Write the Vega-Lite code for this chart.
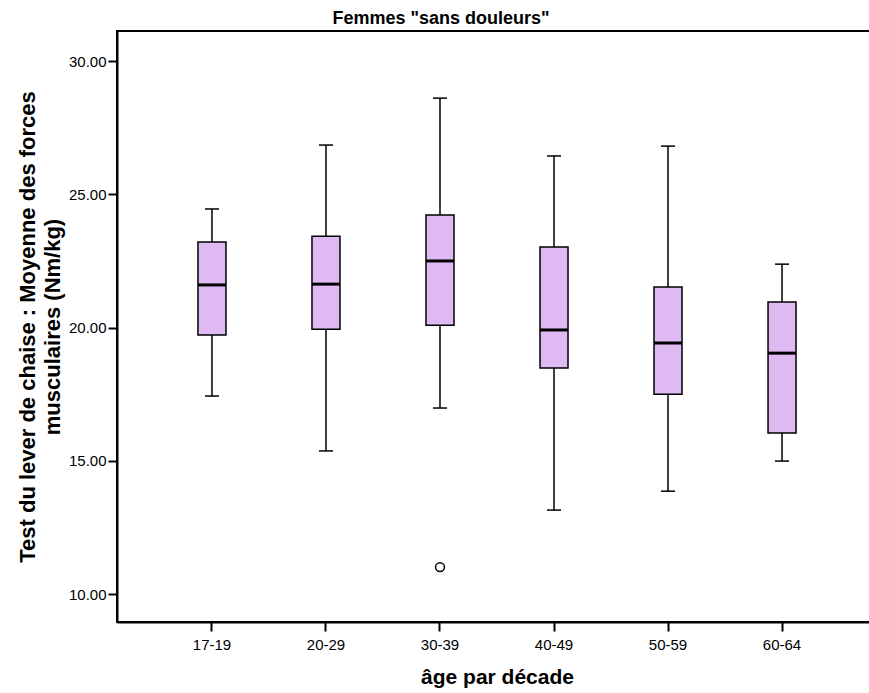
{
  "$schema": "https://vega.github.io/schema/vega-lite/v6.json",
  "width": 760,
  "height": 591,
  "padding": {"left": 16, "top": 10, "right": 0, "bottom": 5},
  "config": {
    "font": "Liberation Sans",
    "view": {"stroke": "#000000", "strokeWidth": 2},
    "axis": {"domainColor": "#000000", "domainWidth": 2, "tickColor": "#000000", "tickWidth": 2, "labelColor": "#000000", "titleColor": "#000000", "grid": false, "labelFontSize": 15, "labelFont": "Liberation Sans", "titleFont": "Liberation Sans"}
  },
  "title": {"text": "Femmes \"sans douleurs\"", "fontSize": 18, "fontWeight": "bold", "font": "Liberation Sans", "color": "#000000", "anchor": "middle", "dx": -56, "offset": 3},
  "datasets": {
    "boxes": [
      {"age": "17-19", "lo": 17.43, "q1": 19.72, "med": 21.6, "q3": 23.21, "hi": 24.45},
      {"age": "20-29", "lo": 15.37, "q1": 19.94, "med": 21.63, "q3": 23.43, "hi": 26.85},
      {"age": "30-39", "lo": 16.98, "q1": 20.09, "med": 22.5, "q3": 24.22, "hi": 28.61},
      {"age": "40-49", "lo": 13.15, "q1": 18.48, "med": 19.91, "q3": 23.02, "hi": 26.44},
      {"age": "50-59", "lo": 13.86, "q1": 17.5, "med": 19.42, "q3": 21.52, "hi": 26.81},
      {"age": "60-64", "lo": 14.99, "q1": 16.04, "med": 19.04, "q3": 20.96, "hi": 22.38}
    ],
    "outliers": [
      {"age": "30-39", "value": 11.01}
    ]
  },
  "data": {"name": "boxes"},
  "encoding": {
    "x": {
      "field": "age", "type": "nominal", "sort": null,
      "scale": {"paddingInner": 0, "paddingOuter": 0.333, "domain": ["17-19", "20-29", "30-39", "40-49", "50-59", "60-64"]},
      "axis": {"title": "âge par décade", "titleFontSize": 21, "titleFontWeight": "bold", "labelAngle": 0, "tickSize": 9, "labelPadding": 6, "titlePadding": 14, "domain": true}
    }
  },
  "layer": [
    {
      "mark": {"type": "rule", "color": "#000000", "strokeWidth": 1.5, "opacity": 1},
      "encoding": {
        "y": {"field": "lo", "type": "quantitative", "scale": {"domain": [8.95, 31.13], "nice": false, "zero": false},
          "axis": {"title": ["Test du lever de chaise : Moyenne des forces", "musculaires (Nm/kg)"], "titleFontSize": 22, "titleFontWeight": "bold", "titleLineHeight": 25, "values": [10, 15, 20, 25, 30], "format": ".2f", "tickSize": 9, "labelPadding": 2, "titlePadding": 4}},
        "y2": {"field": "hi"}
      }
    },
    {
      "mark": {"type": "tick", "color": "#000000", "size": 14, "thickness": 1.5, "orient": "horizontal", "opacity": 1},
      "encoding": {"y": {"field": "lo", "type": "quantitative"}}
    },
    {
      "mark": {"type": "tick", "color": "#000000", "size": 14, "thickness": 1.5, "orient": "horizontal", "opacity": 1},
      "encoding": {"y": {"field": "hi", "type": "quantitative"}}
    },
    {
      "mark": {"type": "bar", "size": 28, "fill": "#DFB9F2", "stroke": "#000000", "strokeWidth": 1.5, "opacity": 1},
      "encoding": {"y": {"field": "q1", "type": "quantitative"}, "y2": {"field": "q3"}}
    },
    {
      "mark": {"type": "tick", "color": "#000000", "size": 28, "thickness": 3, "orient": "horizontal", "opacity": 1},
      "encoding": {"y": {"field": "med", "type": "quantitative"}}
    },
    {
      "data": {"name": "outliers"},
      "mark": {"type": "point", "shape": "circle", "size": 80, "filled": false, "stroke": "#000000", "strokeWidth": 1.5, "opacity": 1},
      "encoding": {"y": {"field": "value", "type": "quantitative"}}
    }
  ]
}
